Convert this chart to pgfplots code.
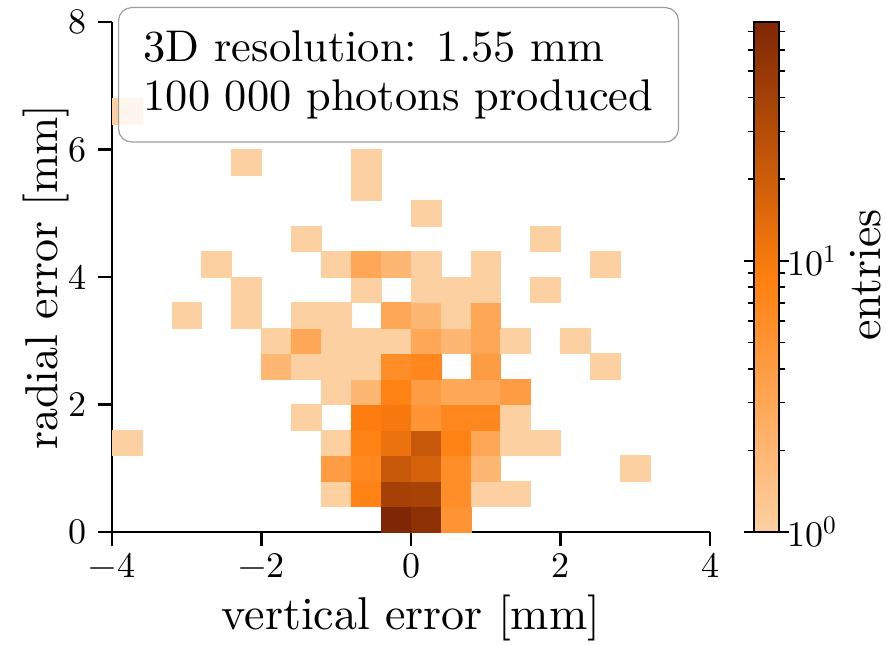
\documentclass[border=0pt]{standalone}
\usepackage{fontspec}
\setmainfont{lmroman10-regular}[Extension=.otf]
\usepackage{pgfplots}
\pgfplotsset{compat=1.18}

% Non-empty bins of the 2D histogram (bin width 0.4 mm in both directions)
% x, y: bin centres; n: entries in the bin
\pgfplotstableread{
x    y    n
-0.2 0.2 76
 0.2 0.2 60
 0.6 0.2  5
-1.0 0.6  1
-0.6 0.6  8
-0.2 0.6 40
 0.2 0.6 38
 0.6 0.6  6
 1.0 0.6  1
 1.4 0.6  1
-1.0 1.0  4
-0.6 1.0  7
-0.2 1.0 22
 0.2 1.0 18
 0.6 1.0  6
 1.0 1.0  2
 3.0 1.0  1
-3.8 1.4  1
-1.0 1.4  1
-0.6 1.4  8
-0.2 1.4 12
 0.2 1.4 22
 0.6 1.4  8
 1.0 1.4  3
 1.4 1.4  1
 1.8 1.4  1
-1.4 1.8  1
-0.6 1.8  9
-0.2 1.8 10
 0.2 1.8  5
 0.6 1.8  7
 1.0 1.8  7
 1.4 1.8  1
-1.0 2.2  1
-0.6 2.2  2
-0.2 2.2  8
 0.2 2.2  4
 0.6 2.2  3
 1.0 2.2  3
 1.4 2.2  4
-1.8 2.6  2
-1.4 2.6  1
-1.0 2.6  1
-0.6 2.6  1
-0.2 2.6  6
 0.2 2.6  7
 1.0 2.6  4
 2.6 2.6  1
-1.8 3.0  1
-1.4 3.0  3
-1.0 3.0  1
-0.6 3.0  1
-0.2 3.0  1
 0.2 3.0  3
 0.6 3.0  2
 1.0 3.0  3
 1.4 3.0  1
 2.2 3.0  1
-3.0 3.4  1
-2.2 3.4  1
-1.4 3.4  1
-1.0 3.4  1
-0.2 3.4  3
 0.2 3.4  2
 0.6 3.4  1
 1.0 3.4  3
-2.2 3.8  1
-0.6 3.8  1
 0.2 3.8  1
 0.6 3.8  1
 1.0 3.8  1
 1.8 3.8  1
-2.6 4.2  1
-1.0 4.2  1
-0.6 4.2  3
-0.2 4.2  2
 0.2 4.2  1
 1.0 4.2  1
 2.6 4.2  1
-1.4 4.6  1
 1.8 4.6  1
 0.2 5.0  1
-0.6 5.4  1
-2.2 5.8  1
-0.6 5.8  1
-3.8 6.6  1
}\bins

\newcommand\tickfont{\fontsize{18}{21}\selectfont}
\newcommand\labfont{\fontsize{23}{27}\selectfont}

\begin{document}
\begin{tikzpicture}
\begin{axis}[
  name=ax,
  x=37.375pt, y=31.875pt,
  xmin=-4, xmax=4, ymin=0, ymax=8,
  axis x line*=bottom, axis y line*=left,
  axis line style={line width=1.3pt, -},
  axis on top,
  tick align=outside, major tick length=7pt,
  xtick={-4,-2,...,4}, ytick={0,2,...,8},
  xticklabels={−4,−2,0,2,4},
  yticklabels={0,2,4,6,8},
  minor tick num=0,
  xtick style={black, line width=1.3pt},
  ytick style={black, line width=1.3pt},
  ticklabel style={font=\tickfont},
  yticklabel style={xshift=-2pt},
  xlabel={vertical error [mm]},
  ylabel={radial error [mm]},
  label style={font=\labfont},
  xlabel style={at={(axis description cs:0.5,-0.192)}, anchor=base},
  ylabel style={at={(axis description cs:-0.0903,0.5)}, anchor=base},
  colormap={orng}{rgb255(0cm)=(253,208,162); rgb255(1cm)=(255,127,14); rgb255(2cm)=(127,39,4)},
  point meta min=0, point meta max=1.8808,
  colorbar,
  colorbar style={
    at={(parent axis.north east)}, anchor=north west, xshift=13.5pt,
    width=12.5pt, height=255pt,
    axis line style={line width=0.6pt},
    tick align=outside, major tick length=5pt, minor tick length=3.2pt,
    ytick={0,1}, yticklabels={10\textsuperscript{0},10\textsuperscript{1}},
    minor ytick={0.30103,0.47712,0.60206,0.69897,0.77815,0.84510,0.90309,0.95424,
                 1.30103,1.47712,1.60206,1.69897,1.77815,1.84510},
    ytick style={black, line width=0.8pt},
    yticklabel style={font=\tickfont, xshift=-4.5pt},
  },
]
\addplot[scatter, only marks, mark=square*, mark size=7.475pt,
  mark options={yscale=0.8528},
  scatter/use mapped color={draw=mapped color, fill=mapped color},
  line width=0.3pt,
  point meta={log10(\thisrow{n})}]
  table[x=x, y=y] {\bins};
\end{axis}
% colour bar title
\node[rotate=90, inner sep=0pt, font=\labfont] at ([xshift=78pt, yshift=1pt]ax.east) {entries};
\node[anchor=north west, draw=black!38, line width=0.6pt, rounded corners=6.5pt,
  fill=white, fill opacity=0.8, text opacity=1,
  inner xsep=12.5pt, inner ysep=11.5pt, align=left,
  font=\fontsize{22.2}{24.5}\selectfont]
  at ([xshift=3pt, yshift=7.5pt]ax.north west)
  {3D resolution: 1.55 mm\\100 000 photons produced};
\pgfresetboundingbox
\path (ax.south west) ++(-56pt,-56pt) rectangle ++(443pt,322pt);
\end{tikzpicture}
\end{document}
